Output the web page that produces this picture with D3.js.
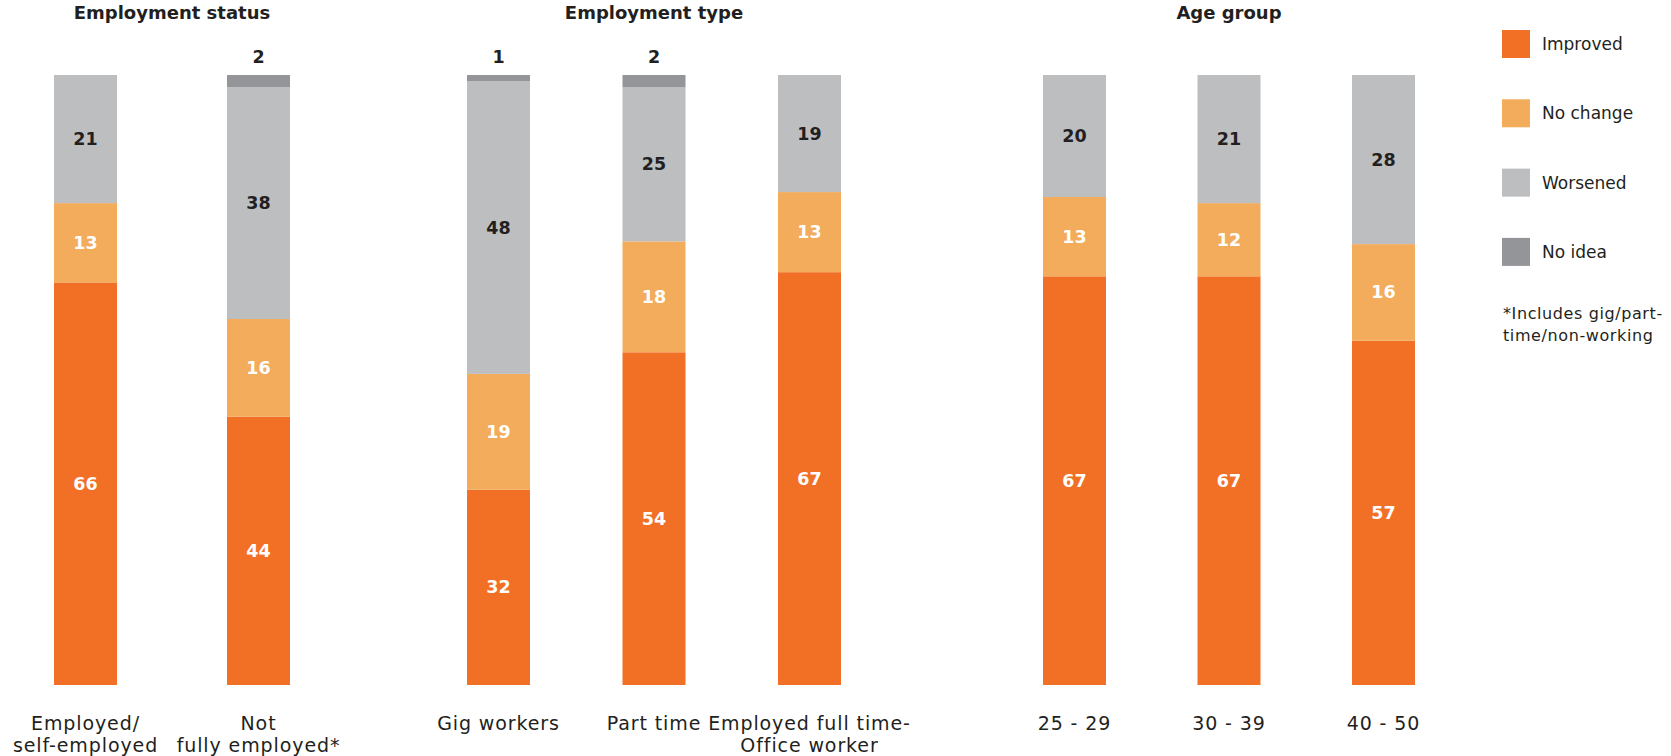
<!DOCTYPE html>
<html>
<head>
<meta charset="utf-8">
<script src="https://cdn.jsdelivr.net/npm/d3@7"></script>
<style>
  body { margin: 0; background: #fff; }
  text { font-family: "DejaVu Sans", sans-serif; fill: #231f20; }
</style>
</head>
<body>
<script>
// chart data
var groups = ['Employment status', 'Employment type', 'Age group'];
var categories = ['Employed/\nself-employed', 'Not\nfully employed*', 'Gig workers', 'Part time',
	'Employed full time-\nOffice worker', '25 - 29', '30 - 39', '40 - 50'];
var categoryGroup = [0, 0, 1, 1, 1, 2, 2, 2];
var improved = [66, 44, 32, 54, 67, 67, 67, 57];
var noChange = [13, 16, 19, 18, 13, 13, 12, 16];
var worsened = [21, 38, 48, 25, 19, 20, 21, 28];
var noIdea = [0, 2, 1, 2, 0, 0, 0, 0];
var seriesNames = ['Improved', 'No change', 'Worsened', 'No idea'];
var seriesColors = ['#f26f26', '#f3ac5b', '#bdbec0', '#939598'];
var footnote = ['*Includes gig/part-', 'time/non-working'];

var width = 1671,
	height = 756;

var svg = d3.select('body')
	.append('svg')
	.attr('width', width)
	.attr('height', height);

// rows for the stack
var rows = categories.map(function(c, i) {
	return {
		cat: c,
		group: categoryGroup[i],
		'Improved': improved[i],
		'No change': noChange[i],
		'Worsened': worsened[i],
		'No idea': noIdea[i]
	};
});

// every bar filled to 100% (some rounded totals are 99 or 101)
var stack = d3.stack()
	.keys(seriesNames)
	.offset(d3.stackOffsetExpand);
var series = stack(rows);

// one point scale per group
var groupRanges = [[85.5, 258.5], [498.5, 809.5], [1074.5, 1383.5]];
var xs = groups.map(function(g, gi) {
	return d3.scalePoint()
		.domain(categories.filter(function(c, i) { return categoryGroup[i] === gi; }))
		.range(groupRanges[gi]);
});
function xPos(d) { return xs[d.group](d.cat); }

var barWidth = 63;

var y = d3.scaleLinear()
	.domain([0, 1])
	.range([685, 75]);

var color = d3.scaleOrdinal()
	.domain(seriesNames)
	.range(seriesColors);

// group titles
svg.append('g')
	.selectAll('text')
	.data(groups)
	.enter().append('text')
	.attr('x', function(d, i) { return d3.mean(xs[i].range()); })
	.attr('y', 19)
	.attr('text-anchor', 'middle')
	.attr('font-size', 18)
	.attr('font-weight', 'bold')
	.text(function(d) { return d; });

// segments
var layer = svg.append('g')
	.selectAll('g')
	.data(series)
	.enter().append('g')
	.attr('fill', function(d) { return color(d.key); });

layer.selectAll('rect')
	.data(function(d) { return d; })
	.enter().append('rect')
	.attr('x', function(d) { return xPos(d.data) - barWidth / 2; })
	.attr('y', function(d) { return y(d[1]); })
	.attr('width', barWidth)
	.attr('height', function(d) { return y(d[0]) - y(d[1]); });

// value labels inside segments (no idea goes above the bar)
series.forEach(function(s) {
	svg.append('g')
		.selectAll('text')
		.data(s.filter(function(d) { return d.data[s.key] > 0; }))
		.enter().append('text')
		.attr('x', function(d) { return xPos(d.data); })
		.attr('y', function(d) {
			if (s.key === 'No idea') return y(d[1]) - 12;
			return (y(d[0]) + y(d[1])) / 2 + 6;
		})
		.attr('text-anchor', 'middle')
		.attr('font-size', 17.5)
		.attr('font-weight', 'bold')
		.style('fill', (s.key === 'Worsened' || s.key === 'No idea') ? '#231f20' : '#fff')
		.text(function(d) { return d.data[s.key]; });
});

// category labels under the bars
var catLabels = svg.append('g')
	.selectAll('text')
	.data(rows)
	.enter().append('text')
	.attr('x', xPos)
	.attr('y', 730)
	.attr('text-anchor', 'middle')
	.attr('font-size', 19)
	.attr('letter-spacing', 0.9);

catLabels.selectAll('tspan')
	.data(function(d) { return d.cat.split('\n').map(function(t) { return { t: t, x: xPos(d) }; }); })
	.enter().append('tspan')
	.attr('x', function(d) { return d.x; })
	.attr('dy', function(d, i) { return i ? 22 : 0; })
	.text(function(d) { return d.t; });

// legend
var legend = svg.append('g')
	.attr('class', 'legend')
	.attr('transform', 'translate(1502, 30)');

var item = legend.selectAll('g')
	.data(seriesNames)
	.enter().append('g')
	.attr('transform', function(d, i) { return 'translate(0,' + (i * 69.3) + ')'; });

item.append('rect')
	.attr('width', 28)
	.attr('height', 28)
	.attr('fill', color);

item.append('text')
	.attr('x', 40)
	.attr('y', 20)
	.attr('font-size', 17)
	.text(function(d) { return d; });

legend.append('text')
	.attr('x', 1)
	.attr('y', 289)
	.attr('font-size', 16)
	.attr('letter-spacing', 0.6)
	.selectAll('tspan')
	.data(footnote)
	.enter().append('tspan')
	.attr('x', 1)
	.attr('dy', function(d, i) { return i ? 22 : 0; })
	.text(function(d) { return d; });
</script>
</body>
</html>
